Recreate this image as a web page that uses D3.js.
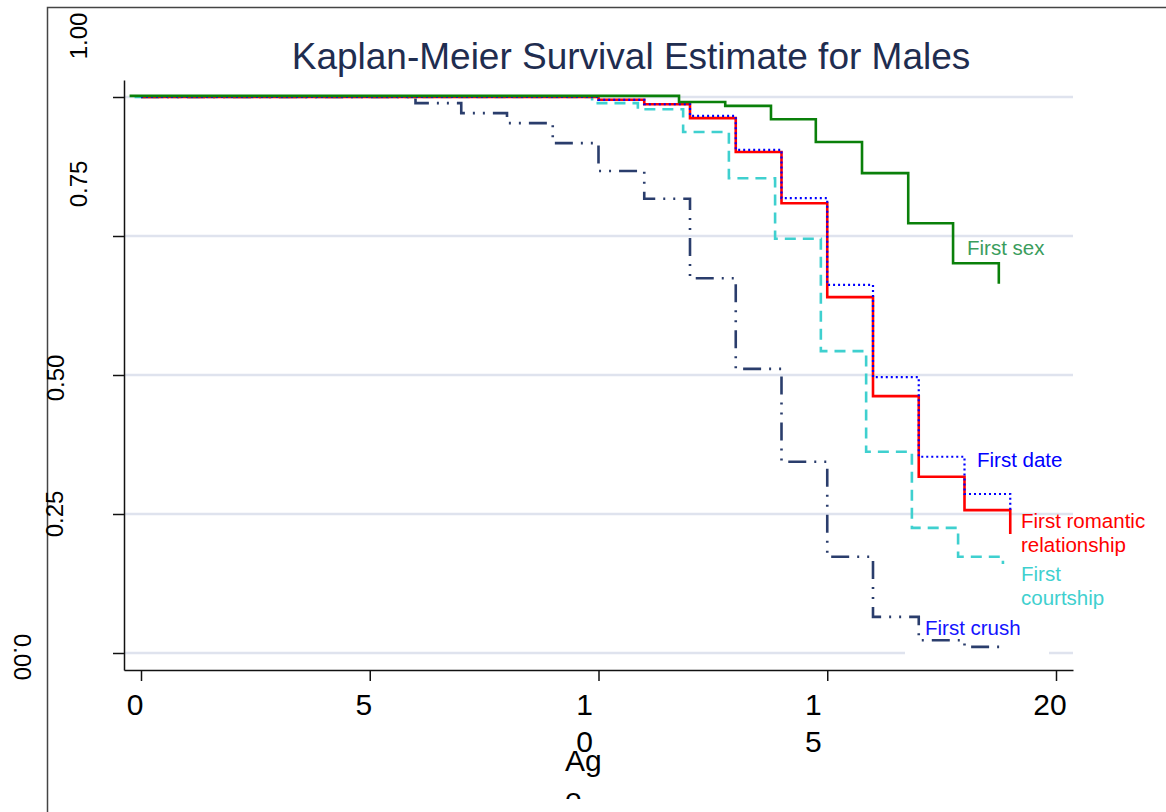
<!DOCTYPE html>
<html>
<head>
<meta charset="utf-8">
<script src="https://cdn.jsdelivr.net/npm/d3@7"></script>
<style>
  body { margin: 0; background: #fff; }
  svg { display: block; font-family: "Liberation Sans", Arial, sans-serif; }
</style>
</head>
<body>
<div id="chart"></div>
<script>
// -----------------------------------------------------------------------
//  Data
// -----------------------------------------------------------------------

const chartTitle = "Kaplan-Meier Survival Estimate for Males";

// x axis ticks, labels are wrapped the way the original renders them
const xTickValues = [0, 5, 10, 15, 20];
const xTickLines = [["0"], ["5"], ["1", "0"], ["1", "5"], ["20"]];
const xTitleLines = ["Ag", "e"];

const yTickValues = [0, 0.25, 0.5, 0.75, 1];
const yTickLabels = ["0.00", "0.25", "0.50", "0.75", "1.00"];

// First crush
const crushAge  = [0, 6, 7, 8, 9, 10, 11, 12, 13, 14, 15, 16, 17, 18, 18.9];
const crushSurv = [1, 0.989, 0.971, 0.953, 0.917, 0.867, 0.817, 0.674, 0.511, 0.344, 0.173, 0.065, 0.023, 0.011, 0.011];

// First courtship
const courtAge  = [-0.14, 9.86, 10.86, 11.85, 12.85, 13.86, 14.86, 15.85, 16.85, 17.86, 18.84];
const courtSurv = [1, 0.989, 0.978, 0.937, 0.854, 0.745, 0.543, 0.362, 0.225, 0.173, 0.160];

// First romantic relationship
const relAge  = [0, 10, 11, 12, 13, 14, 15, 16, 17, 18, 19];
const relSurv = [1, 0.995, 0.987, 0.962, 0.901, 0.809, 0.640, 0.462, 0.317, 0.257, 0.214];

// First date
const dateAge  = [0, 10, 11, 12, 13, 14, 15, 16, 17, 18, 19];
const dateSurv = [1, 0.995, 0.987, 0.966, 0.905, 0.818, 0.662, 0.496, 0.353, 0.286, 0.257];

// First sex
const sexAge  = [-0.25, 11.76, 12.77, 13.77, 14.75, 15.76, 16.77, 17.75, 18.75];
const sexSurv = [1.002, 0.991, 0.984, 0.960, 0.919, 0.863, 0.773, 0.701, 0.664];

const seriesNames = ["First crush", "First courtship", "First romantic relationship", "First date", "First sex"];

// -----------------------------------------------------------------------
//  Layout / style
// -----------------------------------------------------------------------

const width = 1166, height = 812;

// styles for each curve, same order as seriesNames
const curveStyles = [
  { color: "#2a3d6c", dash: "18,8,2,8,2,8", w: 2.6 },
  { color: "#3fd0cf", dash: "11,7", w: 2.6 },
  { color: "#ff0000", dash: null, w: 2.6 },
  { color: "#0000ff", dash: "2,3", w: 2.2 },
  { color: "#0a800a", dash: null, w: 2.6 }
];

// end-of-line labels: lines, x, first baseline, colour
const curveLabels = [
  { lines: ["First crush"], x: 925, y: 635, color: "#1414ff" },
  { lines: ["First", "courtship"], x: 1021, y: 581, color: "#3fd0cf" },
  { lines: ["First romantic", "relationship"], x: 1021, y: 528, color: "#ff0000" },
  { lines: ["First date"], x: 977, y: 467, color: "#0000ff" },
  { lines: ["First sex"], x: 967, y: 255, color: "#3a9d5d" }
];

// odd placement of the rotated y labels: [dx from axis, dy from tick, rotation]
const yLabelLayout = [[-102, 4, 90], [-70, 0, -90], [-69, 3, -90], [-46, -52, -90], [-46, -61, -90]];

// scales: axis lines run 124..1073 and 670..80
const x = d3.scaleLinear().domain([-17 / 45.75, 20 + 17 / 45.75]).range([124, 1073]);
const y = d3.scaleLinear().domain([-17 / 556, 1 + 17 / 556]).range([670, 80]);

const svg = d3.select("#chart").append("svg")
  .attr("width", width)
  .attr("height", height);

// the axis title gets cut off a bit below the tick labels
svg.append("clipPath").attr("id", "xtitle-clip")
  .append("rect")
  .attr("x", 0).attr("y", 0)
  .attr("width", width).attr("height", 799);

// outer frame
svg.append("rect")
  .attr("x", 47.5).attr("y", 7.5)
  .attr("width", 1300).attr("height", 900)
  .attr("fill", "none")
  .attr("stroke", "#444")
  .attr("stroke-width", 1.5);

// title
svg.append("text")
  .attr("x", 631).attr("y", 69)
  .attr("text-anchor", "middle")
  .attr("font-size", 37)
  .attr("fill", "#1f2d50")
  .text(chartTitle);

// gridlines
svg.append("g").selectAll("line")
  .data(yTickValues)
  .join("line")
  .attr("x1", x.range()[0]).attr("x2", x.range()[1])
  .attr("y1", d => y(d)).attr("y2", d => y(d))
  .attr("stroke", "#dfe3ee")
  .attr("stroke-width", 2.5);

// white box behind the "First crush" label cuts the 0 gridline
svg.append("rect")
  .attr("x", 905).attr("y", 618)
  .attr("width", 144).attr("height", 42)
  .attr("fill", "#fff");

// curves
const line = d3.line()
  .x(d => x(d[0]))
  .y(d => y(d[1]))
  .curve(d3.curveStepAfter);

const seriesData = [
  d3.zip(crushAge, crushSurv),
  d3.zip(courtAge, courtSurv),
  d3.zip(relAge, relSurv),
  d3.zip(dateAge, dateSurv),
  d3.zip(sexAge, sexSurv)
];

svg.append("g").selectAll("path")
  .data(seriesData)
  .join("path")
  .attr("d", d => line(d))
  .attr("fill", "none")
  .attr("stroke", (d, i) => curveStyles[i].color)
  .attr("stroke-width", (d, i) => curveStyles[i].w)
  .attr("stroke-dasharray", (d, i) => curveStyles[i].dash);

// axes
const xAxis = svg.append("g")
  .attr("transform", `translate(0,${y.range()[0]})`)
  .call(d3.axisBottom(x).tickValues(xTickValues).tickSize(11).tickSizeOuter(0).tickFormat(""));

const yAxis = svg.append("g")
  .attr("transform", `translate(${x.range()[0]},0)`)
  .call(d3.axisLeft(y).tickValues(yTickValues).tickSize(11).tickSizeOuter(0).tickFormat(""));

[xAxis, yAxis].forEach(g => {
  g.selectAll("path, line").attr("stroke", "#111").attr("stroke-width", 1.5);
});

// x tick labels (wrapped ones sit a little further left)
const xLab = svg.append("g").selectAll("text")
  .data(xTickValues)
  .join("text")
  .attr("text-anchor", "middle")
  .attr("font-size", 30)
  .attr("fill", "#000");

xLab.each(function (d, i) {
  const lines = xTickLines[i];
  const cx = x(d) - (lines.length > 1 ? 14 : 6);
  d3.select(this).selectAll("tspan")
    .data(lines)
    .join("tspan")
    .attr("x", cx)
    .attr("y", (l, j) => 715 + j * 37)
    .text(l => l);
});

// x axis title
svg.append("text")
  .attr("clip-path", "url(#xtitle-clip)")
  .attr("font-size", 30)
  .attr("fill", "#000")
  .selectAll("tspan")
  .data(xTitleLines)
  .join("tspan")
  .attr("x", 565)
  .attr("y", (l, j) => 771 + j * 38)
  .text(l => l);

// y tick labels
svg.append("g").selectAll("text")
  .data(yTickValues)
  .join("text")
  .attr("transform", (d, i) => {
    const p = yLabelLayout[i];
    return `translate(${x.range()[0] + p[0]},${y(d) + p[1]}) rotate(${p[2]})`;
  })
  .attr("text-anchor", "middle")
  .attr("dominant-baseline", "central")
  .attr("font-size", 24)
  .attr("fill", "#000")
  .text((d, i) => yTickLabels[i]);

// curve labels
curveLabels.forEach(lab => {
  svg.append("text")
    .attr("font-size", 20.5)
    .attr("fill", lab.color)
    .selectAll("tspan")
    .data(lab.lines)
    .join("tspan")
    .attr("x", lab.x)
    .attr("y", (l, j) => lab.y + j * 24)
    .text(l => l);
});
</script>
</body>
</html>
